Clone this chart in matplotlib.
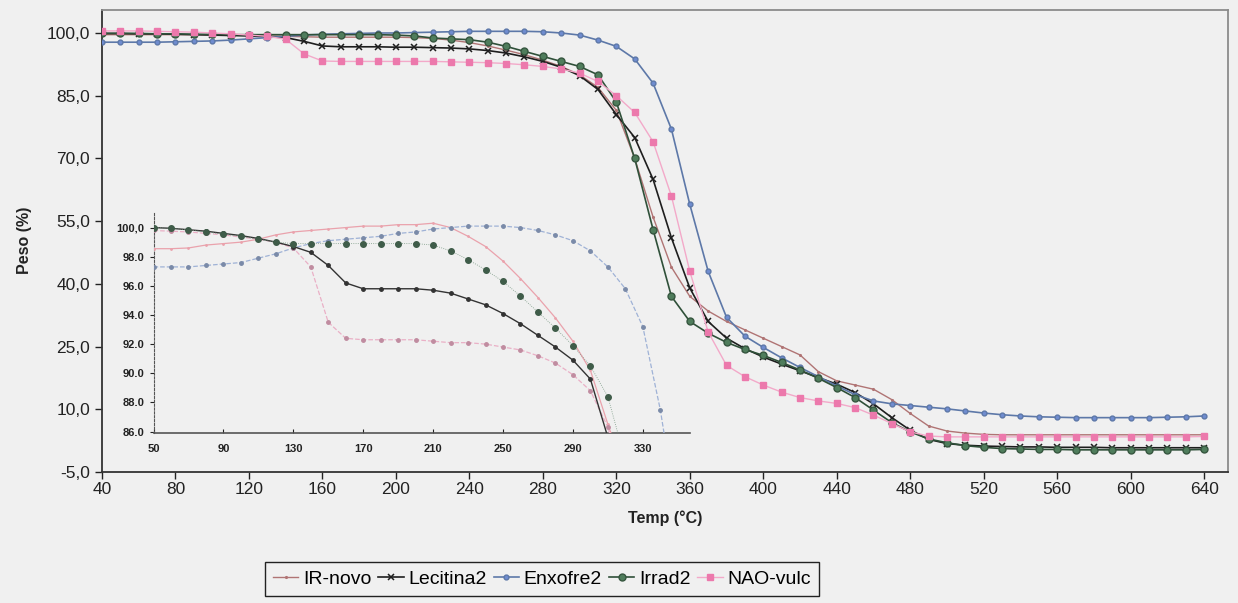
import numpy as np
import matplotlib
matplotlib.use("Agg")
import matplotlib.pyplot as plt

plt.rcParams['font.family'] = ['Liberation Sans', 'DejaVu Sans']

# ---- data: main plot (every 10 C from 40 to 640) ----
temp = list(range(40, 650, 10))

ir_novo = [99.6, 99.6, 99.6, 99.6, 99.6, 99.6, 99.6, 99.5, 99.4, 99.3,
           99.2, 99.1, 99.0, 99.0, 99.0, 99.0, 99.0, 98.9, 98.7, 98.3,
           97.7, 96.9, 95.9, 94.8, 93.5, 92.0, 90.0, 87.0, 81.5, 70.0,
           56.0, 44.0, 37.0, 33.5, 31.0, 29.0, 27.0, 25.0, 23.0, 19.0,
           16.8, 15.8, 14.8, 12.3, 9.0, 6.0, 4.8, 4.3, 4.0, 3.9,
           3.9, 3.9, 3.9, 3.9, 3.9, 3.9, 3.9, 3.9, 3.9, 3.9,
           3.9]
lecitina2 = [99.9, 99.9, 99.8, 99.8, 99.7, 99.6, 99.5, 99.4, 99.3, 99.1,
             98.9, 98.0, 96.9, 96.7, 96.7, 96.7, 96.6, 96.6, 96.5, 96.4,
             96.2, 95.8, 95.2, 94.3, 93.2, 91.8, 89.8, 86.5, 80.5, 75.0,
             65.0, 51.0, 39.0, 31.0, 27.0, 24.5, 22.5, 20.8, 19.2, 17.6,
             16.0, 14.0, 11.3, 8.0, 5.0, 2.8, 1.8, 1.4, 1.2, 1.1,
             1.0, 1.0, 0.9, 0.9, 0.9, 0.8, 0.8, 0.8, 0.8, 0.8,
             0.8]
enxofre2 = [97.8, 97.8, 97.8, 97.8, 97.9, 98.0, 98.1, 98.3, 98.6, 98.9,
            99.2, 99.5, 99.7, 99.8, 99.9, 100.0, 100.0, 100.1, 100.2, 100.3,
            100.4, 100.4, 100.4, 100.4, 100.3, 100.0, 99.5, 98.3, 96.8, 93.8,
            88.0, 77.0, 59.0, 43.0, 32.0, 27.5, 24.8, 22.3, 20.0, 17.8,
            15.6, 13.5, 12.0, 11.3, 10.9, 10.5, 10.1, 9.6, 9.1, 8.7,
            8.4, 8.2, 8.1, 8.0, 8.0, 8.0, 8.0, 8.0, 8.1, 8.2,
            8.4]
irrad2 = [99.9, 99.9, 99.9, 99.8, 99.8, 99.7, 99.7, 99.6, 99.6, 99.6,
          99.6, 99.6, 99.6, 99.6, 99.6, 99.6, 99.5, 99.3, 98.8, 98.6,
          98.4, 97.8, 96.8, 95.6, 94.4, 93.2, 92.0, 90.0, 83.5, 70.0,
          53.0, 37.0, 31.0, 28.2, 26.0, 24.3, 22.9, 21.2, 19.4, 17.4,
          15.2, 12.8, 9.8, 6.8, 4.6, 2.9, 2.0, 1.3, 0.9, 0.6,
          0.5, 0.4, 0.4, 0.3, 0.3, 0.3, 0.3, 0.3, 0.3, 0.3,
          0.4]
nao_vulc = [100.5, 100.5, 100.5, 100.4, 100.3, 100.2, 100.0, 99.8, 99.5, 99.2,
            98.5, 95.0, 93.3, 93.2, 93.2, 93.2, 93.2, 93.2, 93.2, 93.1,
            93.0, 92.9, 92.7, 92.4, 92.0, 91.4, 90.4, 88.4, 85.0, 81.0,
            74.0, 61.0, 43.0, 28.5, 20.5, 17.8, 15.8, 14.1, 12.8, 12.0,
            11.4, 10.4, 8.6, 6.6, 4.6, 3.6, 3.4, 3.4, 3.4, 3.4,
            3.4, 3.4, 3.4, 3.4, 3.4, 3.4, 3.4, 3.4, 3.4, 3.4,
            3.5]

# ---- data: inset (every 10 C from 50 to 350) ----
temp_ins = list(range(50, 360, 10))

ir_novo_ins = [98.55, 98.55, 98.6, 98.8, 98.9, 99.0, 99.2, 99.5, 99.7, 99.8,
               99.9, 100.0, 100.1, 100.1, 100.2, 100.2, 100.3, 100.0, 99.4, 98.7,
               97.7, 96.5, 95.2, 93.8, 92.2, 90.2, 86.5, 83.0, 79.0, 75.0,
               70.0]
lecitina2_ins = [100.0, 99.95, 99.85, 99.75, 99.6, 99.45, 99.25, 99.0, 98.7, 98.3,
                 97.4, 96.2, 95.8, 95.8, 95.8, 95.8, 95.7, 95.5, 95.1, 94.7,
                 94.1, 93.4, 92.6, 91.8, 90.9, 89.6, 85.6, 83.0, 80.0, 77.0,
                 74.0]
enxofre2_ins = [97.3, 97.3, 97.3, 97.4, 97.5, 97.6, 97.9, 98.2, 98.6, 98.9,
                99.1, 99.2, 99.3, 99.4, 99.6, 99.7, 99.9, 100.0, 100.1, 100.1,
                100.1, 100.0, 99.8, 99.5, 99.1, 98.4, 97.3, 95.8, 93.2, 87.5,
                80.0]
irrad2_ins = [100.0, 99.95, 99.85, 99.7, 99.55, 99.4, 99.2, 99.0, 98.9, 98.9,
              98.9, 98.9, 98.9, 98.9, 98.9, 98.9, 98.8, 98.4, 97.8, 97.1,
              96.3, 95.3, 94.2, 93.1, 91.9, 90.5, 88.4, 84.0, 78.0, 70.0,
              60.0]
nao_vulc_ins = [99.8, 99.75, 99.7, 99.6, 99.5, 99.35, 99.2, 99.0, 98.6, 97.3,
                93.5, 92.4, 92.3, 92.3, 92.3, 92.3, 92.2, 92.1, 92.1, 92.0,
                91.8, 91.6, 91.2, 90.7, 89.9, 88.8, 86.3, 82.0, 78.0, 74.0,
                70.0]

labels = ["IR-novo", "Lecitina2", "Enxofre2", "Irrad2", "NAO-vulc"]

x_ticks = list(range(40, 641, 40))
y_ticks = [-5, 10, 25, 40, 55, 70, 85, 100]
y_ticklabels = ["-5,0", "10,0", "25,0", "40,0", "55,0", "70,0", "85,0", "100,0"]

x_ticks_ins = [50, 90, 130, 170, 210, 250, 290, 330]
y_ticks_ins = [86, 88, 90, 92, 94, 96, 98, 100]
y_ticklabels_ins = ["86.0", "88.0", "90.0", "92.0", "94.0", "96.0", "98.0", "100,0"]

bg = '#f0f0f0'
W, H = 1238, 603
fig = plt.figure(figsize=(W / 100, H / 100), dpi=100, facecolor=bg)

ax = fig.add_axes([102 / W, 1 - 472 / H, (1228 - 102) / W, (472 - 10) / H])
ax.set_facecolor(bg)

l0, = ax.plot(temp, ir_novo, color='#b07474', lw=1.0, marker='.', ms=2.5, zorder=3)
l1, = ax.plot(temp, lecitina2, color='#1e1e1e', lw=1.2, marker='x', ms=5, mew=1.1, zorder=4)
l2, = ax.plot(temp, enxofre2, color='#5d78a8', lw=1.2, marker='o', ms=3.5,
              mfc='#6f8cd0', mec='#5d78a8', zorder=4)
l3, = ax.plot(temp, irrad2, color='#2f5039', lw=1.2, marker='o', ms=5,
              mfc='#4f7d5c', mec='#36563f', zorder=5)
l4, = ax.plot(temp, nao_vulc, color='#f3a9c9', lw=1.0, marker='s', ms=4.5,
              mfc='#ec79ac', mec='#ec79ac', zorder=6)

ax.set_xlim(40, 653)
ax.set_ylim(-5, 105.5)
ax.set_xticks(x_ticks)
ax.set_yticks(y_ticks)
ax.set_yticklabels(y_ticklabels)
ax.tick_params(direction='out', length=5, width=1, labelsize=12.5, colors='#222222')
ax.tick_params(axis='x', pad=2)
for side in ['left', 'bottom']:
    ax.spines[side].set_color('#333333')
    ax.spines[side].set_linewidth(1.3)
for side in ['top', 'right']:
    ax.spines[side].set_color('#8c8c8c')
    ax.spines[side].set_linewidth(1.3)

fig.text(25 / W, 1 - 240 / H, "Peso (%)", rotation=90, ha='center', va='center',
         fontsize=11.5, fontweight='bold', color='#222222')
fig.text(665 / W, 1 - 518 / H, "Temp (\u00b0C)", ha='center', va='center',
         fontsize=11.5, fontweight='bold', color='#222222')

# ---- inset ----
axi = fig.add_axes([153.5 / W, 1 - 433 / H, (690 - 153.5) / W, (433 - 213) / H])
axi.patch.set_alpha(0)
axi.plot(temp_ins, ir_novo_ins, color='#eaa2ac', lw=0.9, marker='.', ms=2, zorder=3)
axi.plot(temp_ins, lecitina2_ins, color='#333333', lw=1.0, marker='o', ms=2.5, zorder=4)
axi.plot(temp_ins, enxofre2_ins, color='#9fb2d6', lw=0.9, ls='--', marker='o', ms=2.5,
         mfc='#7a8aa8', mec='#7a8aa8', zorder=3)
axi.plot(temp_ins, irrad2_ins, color='#7a9a84', lw=0.6, ls=':', marker='o', ms=4,
         mfc='#3f5c49', mec='#3f5c49', zorder=4)
axi.plot(temp_ins, nao_vulc_ins, color='#eab0c6', lw=0.9, ls='--', marker='o', ms=2.5,
         mfc='#c08ca0', mec='#c08ca0', zorder=3)
axi.set_xlim(50, 357)
axi.set_ylim(85.9, 101)
axi.set_xticks(x_ticks_ins)
axi.set_yticks(y_ticks_ins)
axi.set_yticklabels(y_ticklabels_ins)
for t in axi.get_xticklabels() + axi.get_yticklabels():
    t.set_fontweight('bold')
axi.tick_params(axis='x', direction='in', length=3, labelsize=8, colors='#222222', pad=8)
axi.tick_params(axis='y', direction='out', length=3, labelsize=8, colors='#222222')
axi.spines['top'].set_visible(False)
axi.spines['right'].set_visible(False)
axi.spines['left'].set_color('#555555')
axi.spines['left'].set_linestyle((0, (2, 1.5)))
axi.spines['bottom'].set_color('#555555')
axi.spines['bottom'].set_linewidth(1.2)

leg = fig.legend([l0, l1, l2, l3, l4], labels, loc='center', ncol=5,
                 bbox_to_anchor=(542 / W, 1 - 579 / H), frameon=True, fancybox=False,
                 edgecolor='#222222', facecolor=bg, framealpha=1, fontsize=14,
                 handlelength=1.3, handletextpad=0.25, columnspacing=0.35,
                 borderpad=0.4, borderaxespad=0, numpoints=1)
leg.get_frame().set_linewidth(1.0)

fig.savefig("out.png", dpi=100, facecolor=bg)
